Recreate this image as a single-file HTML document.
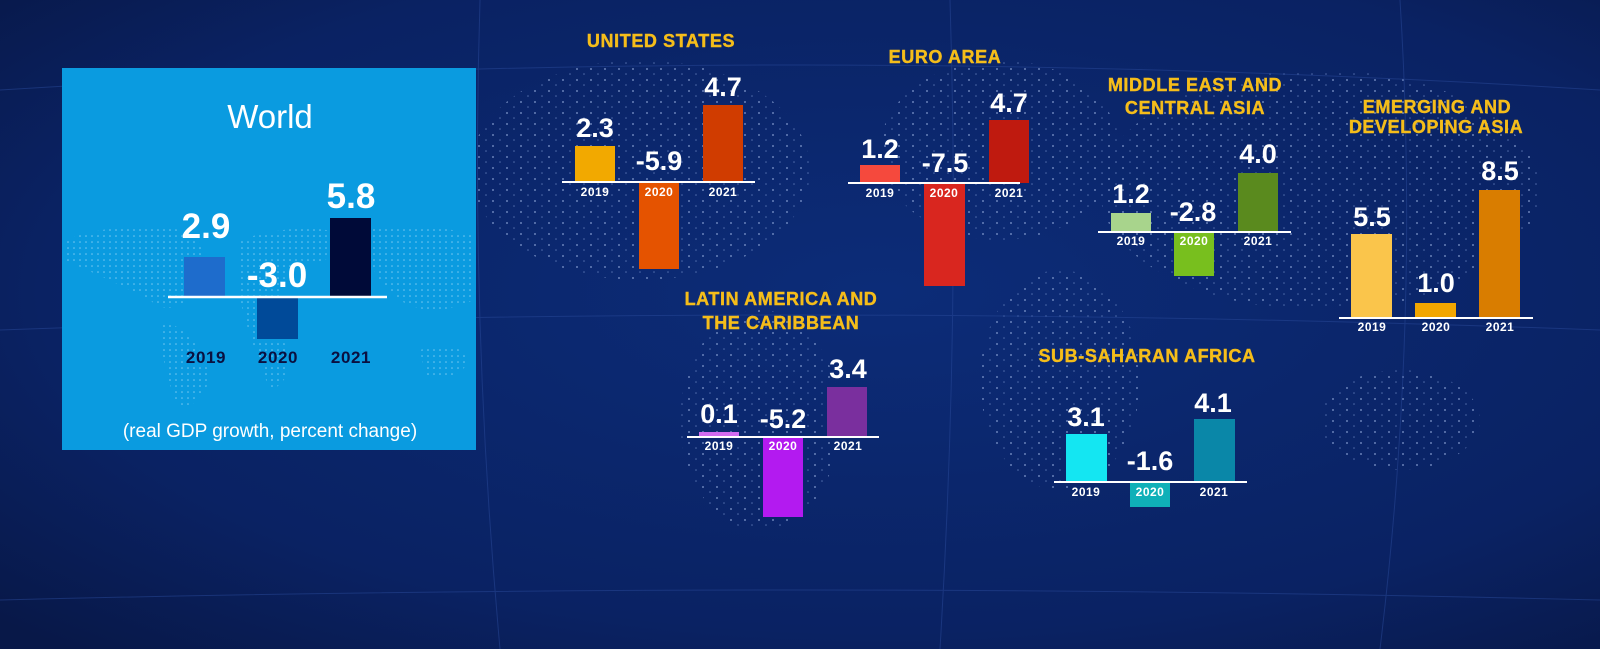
<!DOCTYPE html>
<html><head><meta charset="utf-8">
<style>
html,body{margin:0;padding:0;}
body{width:1600px;height:649px;overflow:hidden;background:#0a2160;}
svg{display:block;}
text{font-family:"Liberation Sans",sans-serif;}
.t{fill:#f5bd1a;font-weight:bold;font-size:18px;letter-spacing:0.6px;text-anchor:middle;stroke:#f5bd1a;stroke-width:0.4px;}
.v{fill:#fff;font-weight:bold;font-size:27px;text-anchor:middle;}
.y{fill:#fff;font-weight:bold;font-size:12px;text-anchor:middle;letter-spacing:0.5px;}
</style></head><body>
<svg width="1600" height="649" viewBox="0 0 1600 649" xmlns="http://www.w3.org/2000/svg">
<defs>
<radialGradient id="bg" cx="0.55" cy="0.45" r="0.75">
<stop offset="0" stop-color="#0c2c78"/><stop offset="0.7" stop-color="#0a2263"/><stop offset="1" stop-color="#081848"/>
</radialGradient>
<pattern id="dots" width="14" height="11" patternUnits="userSpaceOnUse">
<circle cx="3" cy="3" r="1" fill="#8fa6d8"/><circle cx="10" cy="8" r="0.8" fill="#6d88c4"/>
</pattern>
<pattern id="wdots" width="6" height="6" patternUnits="userSpaceOnUse">
<circle cx="2" cy="2" r="0.8" fill="#bfe6fa"/>
</pattern>
</defs>
<rect width="1600" height="649" fill="url(#bg)"/>
<g fill="url(#dots)" opacity="0.7">
<ellipse cx="640" cy="170" rx="170" ry="110"/>
<ellipse cx="760" cy="420" rx="80" ry="110"/>
<ellipse cx="1000" cy="150" rx="120" ry="90"/>
<ellipse cx="1060" cy="380" rx="80" ry="110"/>
<ellipse cx="1320" cy="190" rx="220" ry="120"/>
<ellipse cx="1400" cy="420" rx="80" ry="50"/>
</g>
<g stroke="#2a4a9a" stroke-width="1" fill="none" opacity="0.5">
<path d="M0 90 Q800 40 1600 90"/><path d="M0 330 Q800 300 1600 330"/><path d="M0 600 Q800 580 1600 600"/>
<path d="M480 0 Q470 320 500 649"/><path d="M950 0 Q960 320 940 649"/><path d="M1400 0 Q1420 320 1380 649"/>
</g>

<!-- World box -->
<rect x="62" y="68" width="414" height="382" fill="#0a9be0"/>
<g fill="url(#wdots)" opacity="0.6">
<path d="M65 240 Q120 220 180 230 Q220 250 200 290 Q170 320 150 300 Q110 280 65 260Z"/>
<path d="M160 320 Q200 330 210 380 Q190 420 175 400 Q160 360 160 320Z"/>
<path d="M240 240 Q300 220 350 235 Q330 270 300 260 Q270 300 280 330 Q300 380 270 390 Q250 340 240 300Z"/>
<path d="M360 230 Q420 220 474 235 L474 300 Q430 320 400 300 Q370 280 360 230Z"/>
<path d="M420 350 Q460 340 470 360 Q455 385 425 375Z"/>
</g>
<text x="270" y="128" fill="#fff" font-size="33" text-anchor="middle">World</text>
<rect x="184" y="257" width="41" height="40" fill="#1e6ccc"/>
<rect x="257" y="297" width="41" height="42" fill="#004a99"/>
<rect x="330" y="218" width="41" height="79" fill="#000a38"/>
<line x1="168" y1="297" x2="387" y2="297" stroke="#fff" stroke-width="2.5"/>
<text x="206" y="238" fill="#fff" font-weight="bold" font-size="35" text-anchor="middle">2.9</text>
<text x="277" y="287" fill="#fff" font-weight="bold" font-size="35" text-anchor="middle">-3.0</text>
<text x="351" y="208" fill="#fff" font-weight="bold" font-size="35" text-anchor="middle">5.8</text>
<g fill="#0a1040" font-weight="bold" font-size="17" text-anchor="middle" letter-spacing="0.6">
<text x="206" y="363">2019</text><text x="278" y="363">2020</text><text x="351" y="363">2021</text>
</g>
<text x="270" y="437" fill="#fff" font-size="19" text-anchor="middle">(real GDP growth, percent change)</text>

<!-- United States -->
<text class="t" x="661" y="47">UNITED STATES</text>
<rect x="575" y="146" width="40" height="36" fill="#f2a900"/>
<rect x="639" y="182" width="40" height="87" fill="#e55300"/>
<rect x="703" y="105" width="40" height="77" fill="#d03c00"/>
<line x1="562" y1="182" x2="755" y2="182" stroke="#fff" stroke-width="2"/>
<text class="v" x="595" y="137">2.3</text><text class="v" x="659" y="170">-5.9</text><text class="v" x="723" y="96">4.7</text>
<text class="y" x="595" y="196">2019</text><text class="y" x="659" y="196">2020</text><text class="y" x="723" y="196">2021</text>

<!-- Euro Area -->
<text class="t" x="945" y="63">EURO AREA</text>
<rect x="860" y="165" width="40" height="18" fill="#f5493d"/>
<rect x="924" y="183" width="41" height="103" fill="#d9261f"/>
<rect x="989" y="120" width="40" height="63" fill="#bf1a0f"/>
<line x1="848" y1="183" x2="1020" y2="183" stroke="#fff" stroke-width="2"/>
<text class="v" x="880" y="158">1.2</text><text class="v" x="945" y="172">-7.5</text><text class="v" x="1009" y="112">4.7</text>
<text class="y" x="880" y="197">2019</text><text class="y" x="944" y="197">2020</text><text class="y" x="1009" y="197">2021</text>

<!-- Middle East -->
<text class="t" x="1195" y="91">MIDDLE EAST AND</text>
<text class="t" x="1195" y="114">CENTRAL ASIA</text>
<rect x="1111" y="213" width="40" height="19" fill="#a8d48c"/>
<rect x="1174" y="232" width="40" height="44" fill="#78bf1e"/>
<rect x="1238" y="173" width="40" height="59" fill="#5a8a1e"/>
<line x1="1098" y1="232" x2="1291" y2="232" stroke="#fff" stroke-width="2"/>
<text class="v" x="1131" y="203">1.2</text><text class="v" x="1193" y="221">-2.8</text><text class="v" x="1258" y="163">4.0</text>
<text class="y" x="1131" y="245">2019</text><text class="y" x="1194" y="245">2020</text><text class="y" x="1258" y="245">2021</text>

<!-- Emerging Asia -->
<text class="t" x="1437" y="113">EMERGING AND</text>
<text class="t" x="1436" y="133">DEVELOPING ASIA</text>
<rect x="1351" y="234" width="41" height="84" fill="#fac54b"/>
<rect x="1415" y="303" width="41" height="15" fill="#f2a600"/>
<rect x="1479" y="190" width="41" height="128" fill="#d97d00"/>
<line x1="1339" y1="318" x2="1533" y2="318" stroke="#fff" stroke-width="2"/>
<text class="v" x="1372" y="226">5.5</text><text class="v" x="1436" y="292">1.0</text><text class="v" x="1500" y="180">8.5</text>
<text class="y" x="1372" y="331">2019</text><text class="y" x="1436" y="331">2020</text><text class="y" x="1500" y="331">2021</text>

<!-- Latin America -->
<text class="t" x="781" y="305">LATIN AMERICA AND</text>
<text class="t" x="781" y="329">THE CARIBBEAN</text>
<rect x="699" y="432" width="40" height="5" fill="#d36cf0"/>
<rect x="763" y="437" width="40" height="80" fill="#b31af0"/>
<rect x="827" y="387" width="40" height="50" fill="#7a2f9e"/>
<line x1="687" y1="437" x2="879" y2="437" stroke="#fff" stroke-width="2"/>
<text class="v" x="719" y="423">0.1</text><text class="v" x="783" y="428">-5.2</text><text class="v" x="848" y="378">3.4</text>
<text class="y" x="719" y="450">2019</text><text class="y" x="783" y="450">2020</text><text class="y" x="848" y="450">2021</text>

<!-- Sub-Saharan Africa -->
<text class="t" x="1147" y="362">SUB-SAHARAN AFRICA</text>
<rect x="1066" y="434" width="41" height="48" fill="#14e6f2"/>
<rect x="1130" y="482" width="40" height="25" fill="#0fb0b8"/>
<rect x="1194" y="419" width="41" height="63" fill="#0a87a8"/>
<line x1="1054" y1="482" x2="1247" y2="482" stroke="#fff" stroke-width="2"/>
<text class="v" x="1086" y="426">3.1</text><text class="v" x="1150" y="470">-1.6</text><text class="v" x="1213" y="412">4.1</text>
<text class="y" x="1086" y="496">2019</text><text class="y" x="1150" y="496">2020</text><text class="y" x="1214" y="496">2021</text>
</svg>
</body></html>
